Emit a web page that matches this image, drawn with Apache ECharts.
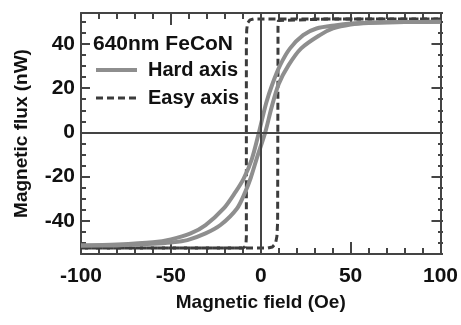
<!DOCTYPE html>
<html>
<head>
<meta charset="utf-8">
<script src="https://cdn.jsdelivr.net/npm/echarts@6/dist/echarts.min.js"></script>
<style>
  html, body { margin: 0; padding: 0; background: #fff; }
  #chart { width: 461px; height: 325px; }
</style>
</head>
<body>
<div id="chart"></div>
<script>
  // hard axis, field sweeping down (left branch)
  var hardDownX = [100, 80, 60, 50, 42, 31, 23.6, 16.3, 10.8, 6.5, 3, -1, -5, -9.5, -14, -20.6, -30.7, -39, -50, -60, -80, -100]
  var hardDownY = [50, 49.9, 49.6, 49.2, 48.5, 47, 44, 38, 30.4, 21.9, 13.2, 0, -12.2, -20.9, -26.9, -34.4, -41.9, -45.7, -48.4, -49.7, -50.7, -51.2]
  // hard axis, field sweeping up (right branch)
  var hardUpX = [-100, -80, -60, -50, -40.8, -30.7, -22.4, -13.2, -8.6, -5.5, -2, 2.5, 6, 10, 15.5, 22.5, 32.9, 40.2, 50, 60, 80, 100]
  var hardUpY = [-51.2, -51.1, -50.4, -49.8, -48.7, -45.7, -41.9, -34.4, -26.9, -20.4, -11.2, 0, 11.2, 21.9, 30.4, 38, 44, 47, 48.8, 49.5, 49.9, 50]
  // easy axis, square loop
  var easyDownX = [100, 40, -4, -6, -7.3, -7.8, -8, -8, -8.2, -8.8, -10, -40, -100]
  var easyDownY = [51.3, 51.3, 51.3, 50.9, 49.5, 46.5, 40.5, -47, -50.3, -51.8, -52.3, -52.3, -52.3]
  var easyUpX = [-100, -40, 4, 6.5, 8.2, 9, 9.4, 9.6, 9.6, 9.8, 10.5, 40, 100]
  var easyUpY = [-52.3, -52.3, -52.3, -51.8, -50.3, -47, -40.5, 40.5, 47.8, 50.6, 51.3, 51.3, 51.3]

  var yMajor = [-40, -20, 0, 20, 40]

  function pairs (xs, ys) {
    var out = []
    for (var i = 0; i < xs.length; i++) out.push([xs[i], ys[i]])
    return out
  }

  var font = 'Liberation Sans, Arial, sans-serif'
  var axisColor = '#444'

  // major ticks + labels live on grid 0, minor ticks on an identical grid 1
  // (two y axes on one side get pushed apart in v6)
  function yMajorAxis (pos, labels) {
    return {
      type: 'value', min: -55, max: 54, position: pos, gridIndex: 0,
      axisLine: { show: true, onZero: false, lineStyle: { color: axisColor, width: 2 } },
      axisTick: { show: true, inside: true, length: 9, customValues: yMajor, lineStyle: { color: axisColor, width: 2 } },
      axisLabel: labels ? { show: true, customValues: yMajor, fontSize: 21, fontWeight: 'bold', color: '#111', fontFamily: font, margin: 6 } : { show: false, customValues: yMajor },
      splitLine: { show: false },
    }
  }

  function yMinorAxis (pos) {
    return {
      type: 'value', min: -55, max: 54, interval: 5, position: pos, gridIndex: 1,
      axisLine: { show: false, onZero: false },
      axisTick: { show: true, inside: true, length: 5, lineStyle: { color: axisColor, width: 2 } },
      axisLabel: { show: false },
      splitLine: { show: false },
    }
  }

  function xAxisCfg (pos, labels) {
    return {
      type: 'value', min: -100, max: 100, interval: 50, position: pos, gridIndex: 0,
      axisLine: { show: true, onZero: false, lineStyle: { color: axisColor, width: 2 } },
      axisTick: { show: true, inside: true, length: 12, lineStyle: { color: axisColor, width: 2 } },
      minorTick: { show: true, splitNumber: 5, length: 6, lineStyle: { color: axisColor, width: 2 } },
      axisLabel: labels ? { show: true, fontSize: 21, fontWeight: 'bold', color: '#111', fontFamily: font, margin: 12 } : { show: false },
      splitLine: { show: false },
    }
  }

  var chart = echarts.init(document.getElementById('chart'), null, { renderer: 'canvas' })

  var bottomAxis = xAxisCfg('bottom', true)
  bottomAxis.name = 'Magnetic field (Oe)'
  bottomAxis.nameLocation = 'middle'
  bottomAxis.nameGap = 39
  bottomAxis.nameTextStyle = { fontSize: 19, fontWeight: 'bold', color: '#111', fontFamily: font }

  var leftAxis = yMajorAxis('left', true)
  leftAxis.name = 'Magnetic flux (nW)'
  leftAxis.nameLocation = 'middle'
  leftAxis.nameGap = 50
  leftAxis.nameTextStyle = { fontSize: 19, fontWeight: 'bold', color: '#111', fontFamily: font }

  var hardStyle = { color: '#8e8e8e', width: 4 }
  var easyStyle = { color: '#3c3c3c', width: 3, type: [7, 4] }

  var gridBox = { left: 81, right: 18, top: 13, bottom: 71 }

  var option = {
    backgroundColor: '#fff',
    animation: false,
    grid: [gridBox, gridBox],
    xAxis: [bottomAxis, xAxisCfg('top', false), { type: 'value', min: -100, max: 100, gridIndex: 1, show: false }],
    yAxis: [leftAxis, yMajorAxis('right', false), yMinorAxis('left'), yMinorAxis('right')],
    graphic: [
      { type: 'text', left: 93, top: 34, style: { text: '640nm FeCoN', font: 'bold 21px ' + font, fill: '#111' } },
      { type: 'line', shape: { x1: 96, y1: 70, x2: 137, y2: 70 }, style: { stroke: '#8e8e8e', lineWidth: 4 } },
      { type: 'text', left: 148, top: 60, style: { text: 'Hard axis', font: 'bold 20px ' + font, fill: '#111' } },
      { type: 'line', shape: { x1: 96, y1: 98, x2: 137, y2: 98 }, style: { stroke: '#3c3c3c', lineWidth: 3, lineDash: [7, 4] } },
      { type: 'text', left: 148, top: 88, style: { text: 'Easy axis', font: 'bold 20px ' + font, fill: '#111' } },
    ],
    series: [
      {
        name: 'zero', type: 'line', data: [], z: 1,
        markLine: {
          silent: true, symbol: 'none', label: { show: false },
          lineStyle: { color: '#444', width: 2, type: 'solid' },
          data: [{ yAxis: 0 }, { xAxis: 0 }],
        },
      },
      { name: 'Easy axis', type: 'line', data: pairs(easyDownX, easyDownY), symbol: 'none', lineStyle: easyStyle, z: 3 },
      { name: 'Easy axis', type: 'line', data: pairs(easyUpX, easyUpY), symbol: 'none', lineStyle: easyStyle, z: 3 },
      { name: 'Hard axis', type: 'line', data: pairs(hardDownX, hardDownY), smooth: 0.3, symbol: 'none', lineStyle: hardStyle, z: 4 },
      { name: 'Hard axis', type: 'line', data: pairs(hardUpX, hardUpY), smooth: 0.3, symbol: 'none', lineStyle: hardStyle, z: 4 },
    ],
  }
  chart.setOption(option)
</script>
</body>
</html>
